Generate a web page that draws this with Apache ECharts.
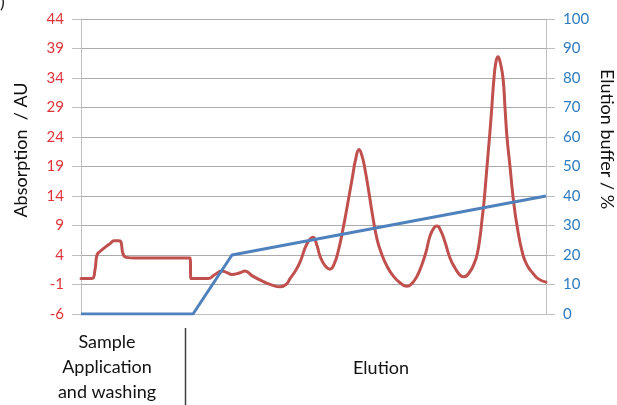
<!DOCTYPE html>
<html>
<head>
<meta charset="utf-8">
<script src="https://cdn.jsdelivr.net/npm/echarts@6/dist/echarts.min.js"></script>
<style>html,body{margin:0;padding:0;background:#fff;}#c{width:617px;height:405px;}</style>
</head>
<body>
<div id="c"></div>
<script>
// Elution time (arbitrary units, 0-100) and absorption (AU)
const absTime = [0,2.37,3.01,3.44,4.09,5.16,6.24,7.10,8.17,8.60,9.03,9.68,11.61,17.0,23.44,23.66,27.31,28.82,30.32,31.40,32.47,34.19,35.27,36.77,38.92,41.08,42.80,44.09,44.95,46.02,47.10,48.60,49.89,50.75,51.40,52.47,53.55,54.41,55.27,56.34,57.42,58.28,59.14,59.78,60.43,61.08,61.94,62.58,63.66,64.73,65.81,67.10,68.60,70.11,71.18,72.26,73.33,74.19,75.05,75.91,76.56,77.42,78.28,79.35,80.43,81.51,82.37,83.66,84.52,85.16,85.81,86.24,86.67,87.10,87.53,87.96,88.39,88.82,89.25,89.68,90.11,90.75,91.18,91.61,92.26,92.90,93.76,95.05,96.13,96.99,98.28,100];
const absValue = [0.0,0.0,1.5,4.0,4.6,5.3,5.9,6.4,6.4,6.2,4.2,3.6,3.5,3.5,3.5,0.0,0.0,0.7,1.3,1.0,0.7,1.0,1.3,0.5,-0.4,-1.1,-1.4,-1.0,0.0,1.2,2.8,5.9,7.0,5.6,3.8,2.2,1.6,2.4,4.5,8.4,13.0,16.8,20.5,21.9,20.8,18.5,14.5,11.3,6.7,4.0,2.1,0.5,-0.7,-1.3,-0.8,0.4,2.4,4.5,7.2,8.6,8.9,8.0,6.2,3.5,1.8,0.6,0.3,1.2,2.5,4.0,7.0,10.0,13.0,17.0,21.0,25.0,29.5,34.0,36.8,37.6,36.8,34.0,29.0,24.0,19.0,14.0,9.0,4.0,2.0,1.1,0.0,-0.6];
// Elution buffer gradient (%)
const bufTime = [0, 24.09, 32.47, 100];
const bufValue = [0, 0, 20, 40];
// Peak labels
const peakNames = ['P1','P2','P3','P4'];
const peakTime = [50.3, 59.6, 75.9, 90.1];
const peakLabelValue = [12.0, 27.6, 15.5, 40.8];

const absMin = -6, absMax = 44, absStep = 5;
const bufMin = 0, bufMax = 100, bufStep = 10;

const chart = echarts.init(document.getElementById('c'), null, {renderer: 'canvas'});
const FONT = 'Lato, "Open Sans", sans-serif';
const RED = '#c0504d', BLUE = '#4f81bd';
const RED_TXT = '#e0343a', BLUE_TXT = '#2f7bbf';

chart.setOption({
  animation: false,
  grid: {left: 81, right: 71, top: 19, bottom: 91},
  xAxis: {
    type: 'value', min: 0, max: 100,
    axisLine: {show: true, onZero: false, lineStyle: {color: '#bfbfbf', width: 1}},
    axisTick: {show: false}, axisLabel: {show: false}, splitLine: {show: false}
  },
  yAxis: [{
    type: 'value', min: absMin, max: absMax, interval: absStep, position: 'left',
    axisLine: {show: true, lineStyle: {color: '#bfbfbf', width: 1}},
    axisTick: {show: true, inside: false, length: 9, lineStyle: {color: '#bfbfbf'}},
    axisLabel: {color: RED_TXT, fontFamily: FONT, fontSize: 15, margin: 17},
    splitLine: {show: true, lineStyle: {color: '#ababab', width: 1}}
  }, {
    type: 'value', min: bufMin, max: bufMax, interval: bufStep, position: 'right',
    axisLine: {show: true, lineStyle: {color: '#bfbfbf', width: 1}},
    axisTick: {show: true, inside: false, length: 9, lineStyle: {color: '#bfbfbf'}},
    axisLabel: {color: BLUE_TXT, fontFamily: FONT, fontSize: 15, margin: 17},
    splitLine: {show: false}
  }],
  series: [{
    type: 'line', yAxisIndex: 0, name: 'Absorption',
    data: absTime.map((t, i) => [t, absValue[i]]),
    showSymbol: false, smooth: 0.5,
    lineStyle: {color: RED, width: 3, join: 'round', cap: 'round'}, z: 3
  }, {
    type: 'line', yAxisIndex: 1, name: 'Elution buffer',
    data: bufTime.map((t, i) => [t, bufValue[i]]),
    showSymbol: false, smooth: false,
    lineStyle: {color: BLUE, width: 3}, z: 4
  }, {
    type: 'scatter', yAxisIndex: 0, name: 'Peaks',
    data: peakNames.map((n, i) => ({name: n, value: [peakTime[i], peakLabelValue[i]]})),
    symbolSize: 1, itemStyle: {opacity: 0},
    label: {show: true, position: 'inside', formatter: '{b}', color: '#111', fontFamily: FONT, fontSize: 18},
    silent: true, z: 5
  }],
  graphic: [
    {type: 'text', left: 0, top: -7, style: {text: ')', font: '18px ' + FONT, fill: '#222'}},
    {type: 'text', x: 21, y: 150, rotation: Math.PI / 2,
     style: {text: 'Absorption  / AU', font: '18px ' + FONT, fill: '#111', align: 'center', verticalAlign: 'middle'}},
    {type: 'text', x: 607, y: 139, rotation: -Math.PI / 2,
     style: {text: 'Elution buffer / %', font: '18px ' + FONT, fill: '#111', align: 'center', verticalAlign: 'middle'}},
    {type: 'text', x: 107, y: 367,
     style: {text: 'Sample\nApplication\nand washing', font: '18px ' + FONT, lineHeight: 25, fill: '#111', align: 'center', verticalAlign: 'middle'}},
    {type: 'text', x: 381, y: 368,
     style: {text: 'Elution', font: '18px ' + FONT, fill: '#111', align: 'center', verticalAlign: 'middle'}},
    {type: 'line', shape: {x1: 185.5, y1: 328, x2: 185.5, y2: 405}, style: {stroke: '#404040', lineWidth: 1.5}}
  ]
});
</script>
</body>
</html>
